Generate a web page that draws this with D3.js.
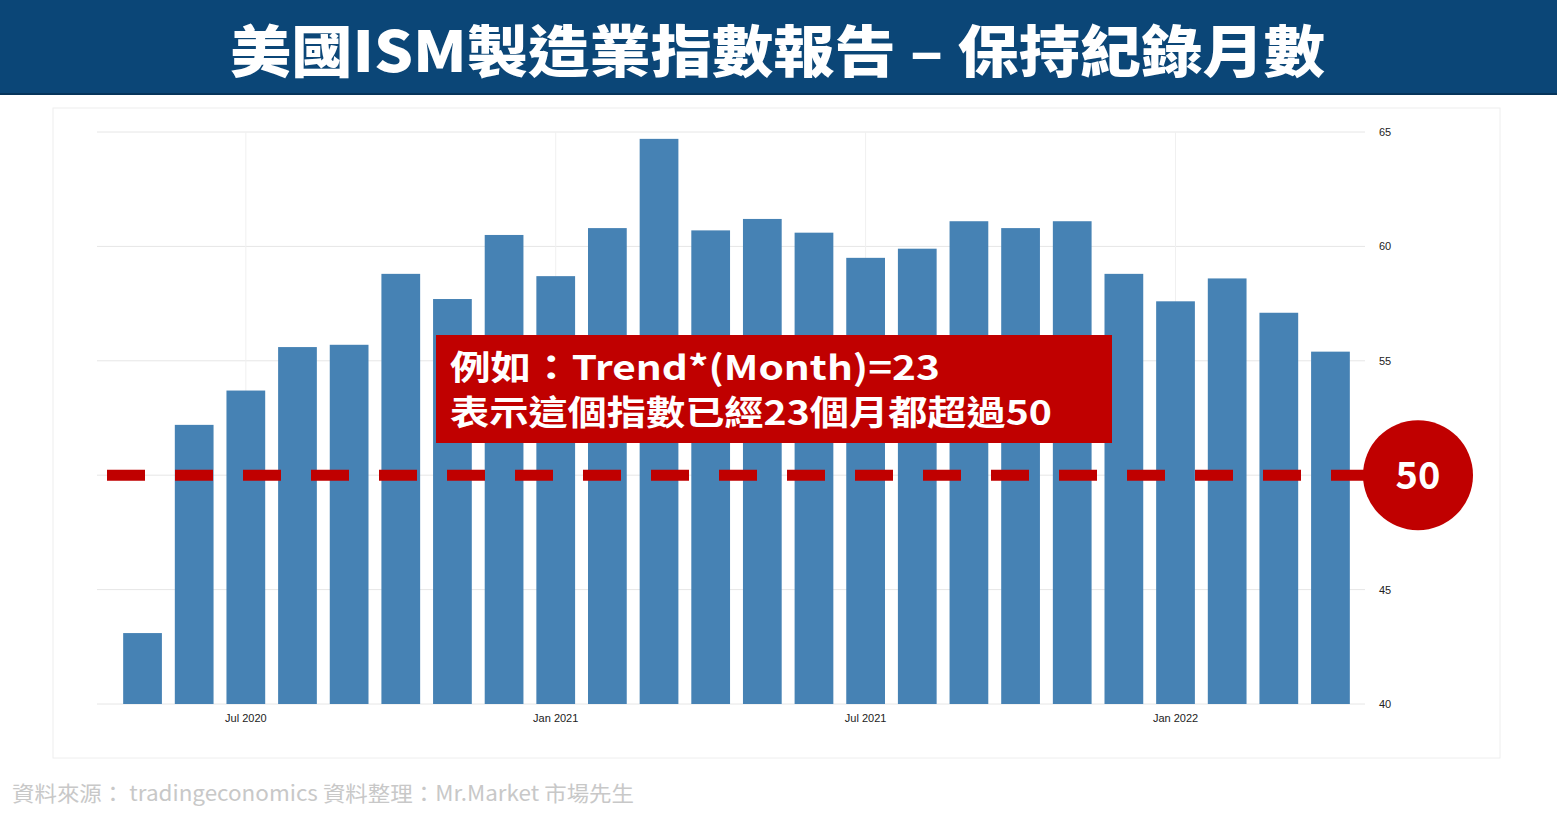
<!DOCTYPE html>
<html><head><meta charset="utf-8">
<script src="https://cdn.jsdelivr.net/npm/d3@7"></script>
<style>body{margin:0;background:#fff;font-family:"Noto Sans CJK TC","Noto Sans",sans-serif}</style>
</head><body><svg id="c" width="1557" height="815"></svg>
<script>
var months = ['2020-05','2020-06','2020-07','2020-08','2020-09','2020-10','2020-11','2020-12',
  '2021-01','2021-02','2021-03','2021-04','2021-05','2021-06','2021-07','2021-08','2021-09','2021-10','2021-11','2021-12',
  '2022-01','2022-02','2022-03','2022-04'];
var pmi = [43.1,52.2,53.7,55.6,55.7,58.8,57.7,60.5,58.7,60.8,64.7,60.7,61.2,60.6,59.5,59.9,61.1,60.8,61.1,58.8,57.6,58.6,57.1,55.4];
var yTicks = [40,45,50,55,60,65];
var xTicks = {'2020-07':'Jul 2020','2021-01':'Jan 2021','2021-07':'Jul 2021','2022-01':'Jan 2022'};

var svg = d3.select('#c');
svg.append('rect').attr('x',0).attr('y',0).attr('width',1557).attr('height',95).attr('fill','#0b4677');
svg.append('rect').attr('x',0).attr('y',93).attr('width',1557).attr('height',2).attr('fill','#06345a');
svg.append('text').attr('x',230).attr('y',72).attr('fill','#fff')
  .attr('font-size',56).attr('font-weight',900).attr('textLength',1095).attr('lengthAdjust','spacingAndGlyphs')
  .text('美國ISM製造業指數報告 – 保持紀錄月數');

svg.append('rect').attr('x',53).attr('y',108).attr('width',1447).attr('height',650).attr('fill','none').attr('stroke','#eee');

var x = d3.scaleBand().domain(months).range([118, 1355]).paddingInner(0.25).paddingOuter(0.1);
var y = d3.scaleLinear().domain([40,65]).range([704,132]);

var g = svg.append('g');
g.selectAll('.hg').data(yTicks).join('line').attr('x1',97).attr('x2',1365)
  .attr('y1',function(d){return y(d);}).attr('y2',function(d){return y(d);}).attr('stroke','#e6e6e6');
g.selectAll('.vg').data(Object.keys(xTicks)).join('line')
  .attr('x1',function(d){return x(d)+x.bandwidth()/2;}).attr('x2',function(d){return x(d)+x.bandwidth()/2;})
  .attr('y1',132).attr('y2',704).attr('stroke','#f0f0f0');
g.selectAll('.bar').data(pmi).join('rect')
  .attr('x',function(d,i){return x(months[i]);}).attr('width',x.bandwidth())
  .attr('y',function(d){return y(d);}).attr('height',function(d){return y(40)-y(d);}).attr('fill','#4682b4');
g.selectAll('.yl').data(yTicks).join('text').attr('x',1379).attr('y',function(d){return y(d)+4;})
  .attr('font-size',11).attr('fill','#222').attr('font-family','Liberation Sans,sans-serif').text(function(d){return d;});
g.selectAll('.xl').data(Object.keys(xTicks)).join('text')
  .attr('x',function(d){return x(d)+x.bandwidth()/2;}).attr('y',722).attr('text-anchor','middle')
  .attr('font-size',11).attr('fill','#222').attr('font-family','Liberation Sans,sans-serif').text(function(d){return xTicks[d];});

svg.append('line').attr('x1',107).attr('x2',1365).attr('y1',y(50)).attr('y2',y(50))
  .attr('stroke','#c00000').attr('stroke-width',11).attr('stroke-dasharray','38 30');
svg.append('circle').attr('cx',1418).attr('cy',y(50)).attr('r',55).attr('fill','#c00000');
svg.append('text').attr('x',1418).attr('y',y(50)+14).attr('text-anchor','middle').attr('fill','#fff')
  .attr('font-size',38).attr('font-weight',700).text('50');

svg.append('rect').attr('x',436).attr('y',335).attr('width',676).attr('height',108).attr('fill','#c00000');
svg.append('text').attr('x',450).attr('y',380).attr('fill','#fff').attr('font-size',34).attr('font-weight',700)
  .attr('textLength',490).attr('lengthAdjust','spacingAndGlyphs').text('例如：Trend*(Month)=23');
svg.append('text').attr('x',450).attr('y',425).attr('fill','#fff').attr('font-size',34).attr('font-weight',700)
  .attr('textLength',602).attr('lengthAdjust','spacingAndGlyphs').text('表示這個指數已經23個月都超過50');

svg.append('text').attr('x',12).attr('y',801).attr('fill','#c8c8c8').attr('font-size',21)
  .attr('textLength',622).attr('lengthAdjust','spacingAndGlyphs')
  .text('資料來源： tradingeconomics  資料整理：Mr.Market 市場先生');
</script></body></html>
